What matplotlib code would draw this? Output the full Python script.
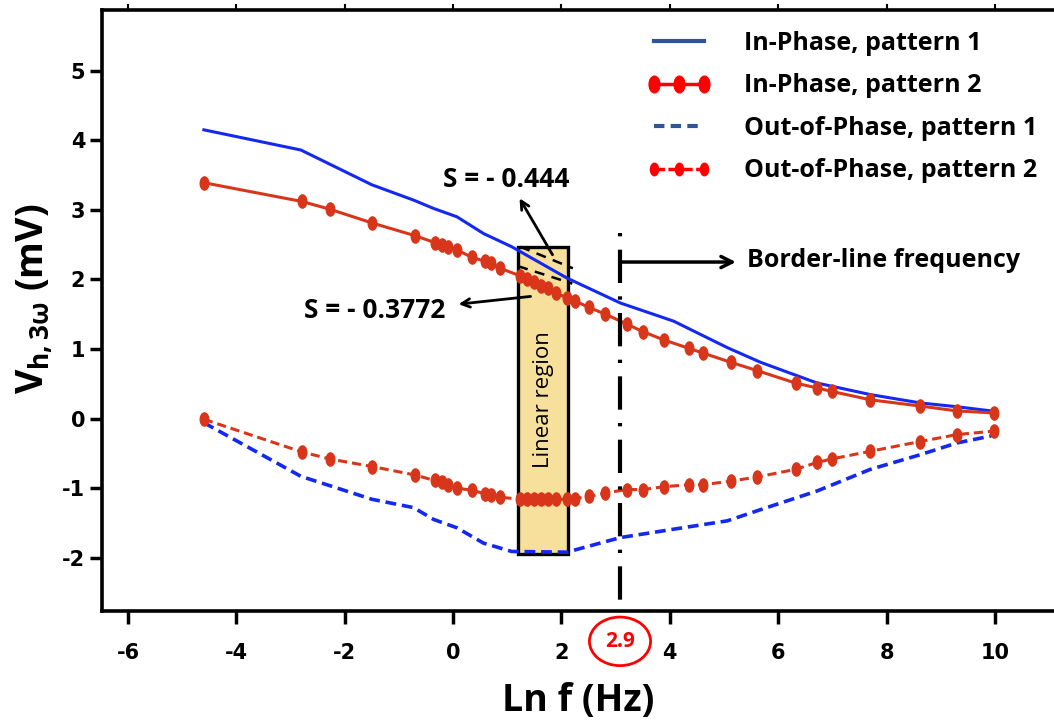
import numpy as np
import matplotlib
matplotlib.use("Agg")
import matplotlib.pyplot as plt
from matplotlib.path import Path
from matplotlib.patches import Rectangle
from matplotlib.lines import Line2D

# pattern 1 (blue) sampled at these ln f values
blue_x = [-4.6, -2.81, -1.5, -0.73, -0.36, 0.07, 0.56, 1.08, 2.1, 3.09,
          4.07, 5.06, 5.67, 6.72, 7.7, 8.62, 9.3, 9.93]
blue_in = [4.15, 3.86, 3.36, 3.14, 3.02, 2.90, 2.66, 2.47, 2.02, 1.66,
           1.40, 1.02, 0.81, 0.51, 0.345, 0.225, 0.17, 0.11]
blue_out = [-0.06, -0.83, -1.16, -1.28, -1.45, -1.57, -1.79, -1.91, -1.92, -1.71,
            -1.59, -1.47, -1.31, -1.04, -0.73, -0.52, -0.35, -0.25]

# pattern 2 (red, with markers)
red_x = [-4.6, -2.79, -2.28, -1.49, -0.71, -0.34, -0.21, -0.09, 0.08, 0.34,
         0.59, 0.70, 0.87, 1.24, 1.37, 1.50, 1.62, 1.75, 1.90, 2.10,
         2.25, 2.50, 2.81, 3.20, 3.50, 3.89, 4.35, 4.62, 5.12, 5.61,
         6.32, 6.72, 6.99, 7.70, 8.62, 9.30, 9.98]
red_in = [3.39, 3.12, 3.01, 2.81, 2.63, 2.53, 2.50, 2.46, 2.42, 2.32,
          2.26, 2.23, 2.16, 2.05, 2.01, 1.96, 1.91, 1.87, 1.80, 1.74,
          1.69, 1.60, 1.50, 1.36, 1.25, 1.13, 1.01, 0.94, 0.81, 0.69,
          0.51, 0.44, 0.39, 0.27, 0.18, 0.11, 0.08]
red_out = [-0.01, -0.48, -0.58, -0.69, -0.81, -0.89, -0.91, -0.95, -1.00, -1.03,
           -1.08, -1.10, -1.13, -1.16, -1.16, -1.16, -1.16, -1.16, -1.16, -1.16,
           -1.15, -1.12, -1.07, -1.02, -1.02, -0.98, -0.95, -0.95, -0.90, -0.84,
           -0.73, -0.63, -0.58, -0.47, -0.33, -0.23, -0.18]

legend_labels = ["In-Phase, pattern 1", "In-Phase, pattern 2",
                 "Out-of-Phase, pattern 1", "Out-of-Phase, pattern 2"]
x_ticks = [-6, -4, -2, 0, 2, 4, 6, 8, 10]
y_ticks = [-2, -1, 0, 1, 2, 3, 4, 5]
border_x = 3.08
border_label = "2.9"
linear_lo, linear_hi = 1.2, 2.12
slope_top = "S = - 0.444"
slope_bot = "S = - 0.3772"

BLUE = "#1428F0"
RED = "#D8361A"
LEG_BLUE = "#2F5597"
LEG_RED = "#FF0000"
TXT = ["Open Sans", "DejaVu Sans"]
TICKF = ["Liberation Sans Narrow", "DejaVu Sans"]

# vertically stretched ellipse marker
circ = Path.unit_circle()
ell = Path(circ.vertices * np.array([0.65, 1.0]), circ.codes)

fig = plt.figure(figsize=(10.54, 7.26), dpi=100)
ax = fig.add_axes([0.0968, 0.158, 0.9032, 0.828])

ax.add_patch(Rectangle((linear_lo, -1.95), linear_hi - linear_lo, 4.42,
                       facecolor="#F7E09C", edgecolor="black", lw=2.4, zorder=1))

ax.plot(blue_x, blue_in, color=BLUE, lw=2.2, zorder=3)
ax.plot(blue_x, blue_out, color=BLUE, lw=2.6, ls=(0, (3, 1.6)), zorder=3)
ax.plot(red_x, red_in, color=RED, lw=2.2, marker=ell, ms=9.5, mec=RED, mfc=RED, zorder=4)
ax.plot(red_x, red_out, color=RED, lw=2.2, ls=(0, (3, 1.6)), marker=ell, ms=9.5,
        mec=RED, mfc=RED, zorder=4)

# tangent guides in linear region
ax.plot([1.24, 2.21], [2.47, 2.16], color="black", lw=1.8, ls=(0, (4, 3)), zorder=5)
ax.plot([1.2, 2.2], [2.19, 1.94], color="black", lw=1.8, ls=(0, (4, 3)), zorder=5)

ax.text((linear_lo + linear_hi) / 2, 0.27, "Linear region", rotation=90,
        ha="center", va="center", fontsize=16, family=TXT, zorder=6)

ax.annotate("", xy=(1.2, 3.2), xytext=(1.86, 2.32),
            arrowprops=dict(arrowstyle="->,head_length=0.6,head_width=0.3", lw=2, color="black"))
ax.text(0.98, 3.43, slope_top, ha="center", va="center", fontsize=19,
        fontweight="bold", family=TXT)
ax.annotate("", xy=(0.05, 1.64), xytext=(1.48, 1.76),
            arrowprops=dict(arrowstyle="->,head_length=0.6,head_width=0.3", lw=2, color="black"))
ax.text(-1.45, 1.55, slope_bot, ha="center", va="center", fontsize=19,
        fontweight="bold", family=TXT)

# border-line frequency
ax.plot([border_x, border_x], [2.66, -2.77], color="black", lw=3,
        ls=(0, (0.8, 3.2, 8, 3.2)), zorder=6, clip_on=False)
ax.annotate("", xy=(5.22, 2.25), xytext=(border_x, 2.25),
            arrowprops=dict(arrowstyle="->,head_length=0.8,head_width=0.4", lw=2.5,
                            color="black", shrinkA=0, shrinkB=0))
ax.text(5.42, 2.27, "Border-line frequency", ha="left", va="center",
        fontsize=18, fontweight="bold", family=TXT)
ax.text(border_x, -0.05, border_label, transform=ax.get_xaxis_transform(),
        ha="center", va="center", color="red", fontsize=15, fontweight="bold",
        family=TXT, clip_on=False,
        bbox=dict(boxstyle="ellipse,pad=0.32", fc="white", ec="red", lw=2))

ax.set_xlim(-6.48, 11.09)
ax.set_ylim(-2.77, 5.87)
ax.set_xticks(x_ticks)
ax.set_yticks(y_ticks)
ax.set_xticklabels([str(t) for t in x_ticks], family=TICKF, fontweight="bold", fontsize=15)
ax.set_yticklabels([str(t) for t in y_ticks], family=TICKF, fontweight="bold", fontsize=15)
ax.tick_params(direction="out", length=9, width=2.5)
ax.tick_params(axis="x", pad=14)
ax.tick_params(axis="y", pad=3)
for s in ["left", "bottom", "top"]:
    ax.spines[s].set_linewidth(2.6)
ax.spines["right"].set_visible(False)
top = ax.secondary_xaxis("top")
top.set_xticks(x_ticks)
top.set_xticklabels([])
top.tick_params(direction="out", length=4, width=1.5)
top.spines["top"].set_visible(False)

ax.set_xlabel("Ln f (Hz)", fontsize=27, fontweight="bold", family=TXT)
ax.xaxis.set_label_coords(0.50, -0.118)
ax.set_ylabel(r"V$_{\mathregular{h,3\omega}}$ (mV)", fontsize=27, fontweight="bold",
              family=TXT)
ax.yaxis.set_label_coords(-0.05, 0.52)

handles = [
    Line2D([], [], color=LEG_BLUE, lw=3),
    Line2D([], [], color=LEG_RED, lw=2.5, marker=ell, ms=12),
    Line2D([], [], color=LEG_BLUE, lw=3, ls=(0, (2.5, 1.5))),
    Line2D([], [], color=LEG_RED, lw=2.5, ls=(0, (3, 1)), marker=ell, ms=9),
]
leg = ax.legend(handles, legend_labels, loc="upper left", bbox_to_anchor=(0.548, 1.003),
                frameon=False, numpoints=3, handlelength=2.6, handletextpad=1.3,
                labelspacing=0.7, prop=dict(family=TXT, weight="bold", size=18))

fig.savefig("out.png", dpi=100)
